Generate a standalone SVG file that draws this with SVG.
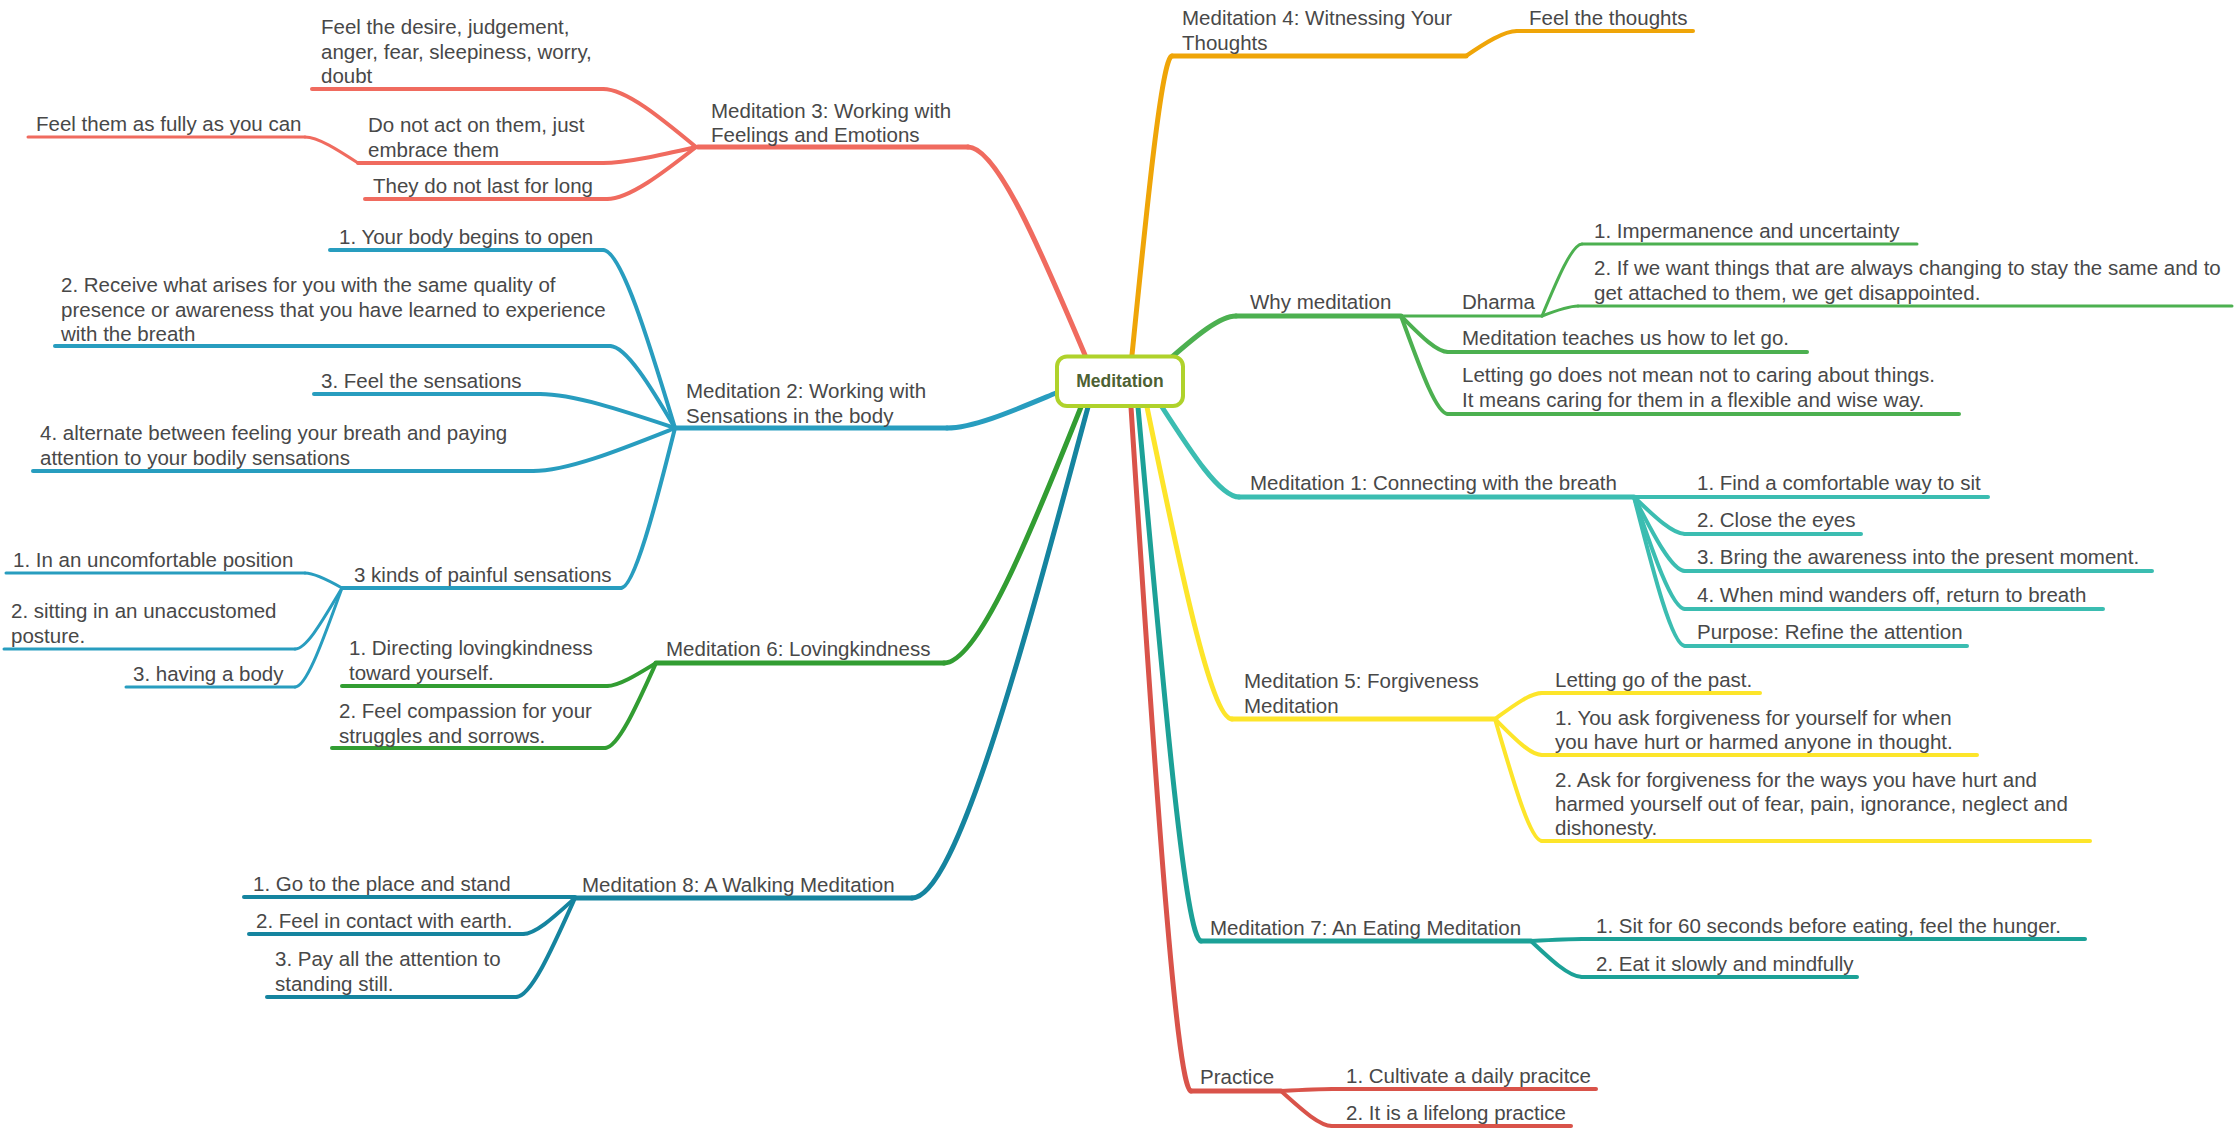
<svg xmlns="http://www.w3.org/2000/svg" width="2236" height="1132" viewBox="0 0 2236 1132">
<style>
  text { font-family: "Liberation Sans", Arial, sans-serif; font-size: 20.5px; fill: #484848; }
  .ln { fill: none; stroke-linecap: round; stroke-linejoin: round; }
  .w5 { stroke-width: 5; }
  .w4 { stroke-width: 4; }
  .w3 { stroke-width: 3; }
  .m3 { stroke: #f06b5f; }
  .m4 { stroke: #efa508; }
  .why { stroke: #4cb050; }
  .m1 { stroke: #3bbdb1; }
  .m5 { stroke: #fde52a; }
  .m7 { stroke: #1ca197; }
  .pr { stroke: #d9534a; }
  .m2 { stroke: #289dbf; }
  .m6 { stroke: #329d32; }
  .m8 { stroke: #15849f; }
  .root-label { font-size: 17.5px; font-weight: bold; fill: #4d6133; text-anchor: middle; }
</style>

<g id="connectors">
  <!-- main branches from root -->
  <path class="ln w5 m3" d="M1085 355 C1041 251 997 147 968 147"/>
  <path class="ln w5 m4" d="M1132 355 C1147 205 1162 56 1172 56"/>
  <path class="ln w5 why" d="M1172 357 C1196 336 1220 316 1236 316"/>
  <path class="ln w5 m1" d="M1162 407 C1191 452 1220 497 1239 497"/>
  <path class="ln w5 m5" d="M1147 407 C1179 563 1211 719 1232 719"/>
  <path class="ln w5 m7" d="M1138 407 C1162 674 1185 941 1201 941"/>
  <path class="ln w5 pr" d="M1131 407 C1153 749 1176 1091 1191 1091"/>
  <path class="ln w5 m8" d="M1088 407 C1022 652 956 898 912 898"/>
  <path class="ln w5 m6" d="M1081 407 C1030 535 978 663 944 663"/>
  <path class="ln w5 m2" d="M1056 393 C1015 410 974 428 947 428"/>

  <!-- Meditation 3 children -->
  <path class="ln w4 m3" d="M696 147 C661 118 626 89 603 89"/>
  <path class="ln w4 m3" d="M696 147 C661 155 626 163 603 163"/>
  <path class="ln w4 m3" d="M696 147 C663 173 629 199 607 199"/>
  <path class="ln w3 m3" d="M358 163 C338 150 318 137 305 137"/>

  <!-- Meditation 4 child -->
  <path class="ln w4 m4" d="M1466 56 C1485 43 1504 31 1517 31"/>

  <!-- Why meditation children -->
  <path class="ln w4 why" d="M1401 316 C1419 334 1436 352 1448 352"/>
  <path class="ln w4 why" d="M1401 316 C1419 365 1436 414 1448 414"/>
  <path class="ln w3 why" d="M1542 316 C1557 280 1572 244 1582 244"/>
  <path class="ln w3 why" d="M1542 316 C1555 311 1569 306 1578 306"/>

  <!-- Meditation 1 children -->
  <path class="ln w4 m1" d="M1634 497 L1685 497"/>
  <path class="ln w4 m1" d="M1634 497 C1653 515 1672 534 1685 534"/>
  <path class="ln w4 m1" d="M1634 497 C1653 534 1672 571 1685 571"/>
  <path class="ln w4 m1" d="M1634 497 C1653 553 1672 609 1685 609"/>
  <path class="ln w4 m1" d="M1634 497 C1653 571 1672 646 1685 646"/>

  <!-- Meditation 5 children -->
  <path class="ln w4 m5" d="M1495 719 C1513 706 1530 693 1542 693"/>
  <path class="ln w4 m5" d="M1495 719 C1513 737 1530 755 1542 755"/>
  <path class="ln w4 m5" d="M1495 719 C1513 780 1530 841 1542 841"/>

  <!-- Meditation 7 children -->
  <path class="ln w4 m7" d="M1531 941 C1550 940 1569 939 1582 939"/>
  <path class="ln w4 m7" d="M1531 941 C1550 959 1569 977 1582 977"/>

  <!-- Practice children -->
  <path class="ln w4 pr" d="M1281 1091 C1300 1090 1319 1089 1332 1089"/>
  <path class="ln w4 pr" d="M1281 1091 C1300 1108 1319 1126 1332 1126"/>

  <!-- Meditation 2 children -->
  <path class="ln w4 m2" d="M675 428 C648 339 621 250 603 250"/>
  <path class="ln w4 m2" d="M675 428 C651 387 626 346 610 346"/>
  <path class="ln w4 m2" d="M675 428 C624 411 574 394 540 394"/>
  <path class="ln w4 m2" d="M675 428 C622 449 568 471 533 471"/>
  <path class="ln w4 m2" d="M675 428 C655 508 634 588 621 588"/>
  <path class="ln w3 m2" d="M342 588 C328 580 314 573 305 573"/>
  <path class="ln w3 m2" d="M342 588 C324 618 307 649 295 649"/>
  <path class="ln w3 m2" d="M342 588 C324 637 307 687 295 687"/>

  <!-- Meditation 6 children -->
  <path class="ln w4 m6" d="M656 663 C638 674 619 686 607 686"/>
  <path class="ln w4 m6" d="M656 663 C637 705 618 748 605 748"/>

  <!-- Meditation 8 children -->
  <path class="ln w4 m8" d="M575 898 C555 916 536 934 523 934"/>
  <path class="ln w4 m8" d="M575 898 C553 947 531 997 516 997"/>
</g>

<g id="root">
  <rect x="1057" y="356.5" width="126" height="49.5" rx="10" ry="10" fill="#ffffff" stroke="#afd22b" stroke-width="4"/>
  <text class="root-label" x="1120" y="387">Meditation</text>
</g>

<!-- Meditation 3 -->
<g id="med3">
  <path class="ln w5 m3" d="M698 147 H968"/>
  <text x="711"><tspan x="711" y="118">Meditation 3: Working with</tspan><tspan x="711" y="142">Feelings and Emotions</tspan></text>
</g>
<g id="med3-feel-desire">
  <path class="ln w4 m3" d="M312 89 H603"/>
  <text><tspan x="321" y="34">Feel the desire, judgement,</tspan><tspan x="321" y="59">anger, fear, sleepiness, worry,</tspan><tspan x="321" y="83">doubt</tspan></text>
</g>
<g id="med3-do-not-act">
  <path class="ln w4 m3" d="M358 163 H603"/>
  <text><tspan x="368" y="132">Do not act on them, just</tspan><tspan x="368" y="157">embrace them</tspan></text>
</g>
<g id="med3-feel-fully">
  <path class="ln w3 m3" d="M28 137 H305"/>
  <text x="36" y="131">Feel them as fully as you can</text>
</g>
<g id="med3-not-last">
  <path class="ln w4 m3" d="M365 199 H607"/>
  <text x="373" y="193">They do not last for long</text>
</g>

<!-- Meditation 4 -->
<g id="med4">
  <path class="ln w5 m4" d="M1172 56 H1466"/>
  <text><tspan x="1182" y="25">Meditation 4: Witnessing Your</tspan><tspan x="1182" y="50">Thoughts</tspan></text>
</g>
<g id="med4-feel-thoughts">
  <path class="ln w4 m4" d="M1517 31 H1693"/>
  <text x="1529" y="25">Feel the thoughts</text>
</g>

<!-- Why meditation -->
<g id="why">
  <path class="ln w5 why" d="M1236 316 H1401"/>
  <text x="1250" y="309">Why meditation</text>
</g>
<g id="dharma">
  <path class="ln w3 why" d="M1401 316 H1542"/>
  <text x="1462" y="309">Dharma</text>
</g>
<g id="dharma-1">
  <path class="ln w3 why" d="M1582 244 H1917"/>
  <text x="1594" y="238">1. Impermanence and uncertainty</text>
</g>
<g id="dharma-2">
  <path class="ln w3 why" d="M1578 306 H2232"/>
  <text><tspan x="1594" y="275">2. If we want things that are always changing to stay the same and to</tspan><tspan x="1594" y="300">get attached to them, we get disappointed.</tspan></text>
</g>
<g id="why-let-go">
  <path class="ln w4 why" d="M1448 352 H1807"/>
  <text x="1462" y="345">Meditation teaches us how to let go.</text>
</g>
<g id="why-caring">
  <path class="ln w4 why" d="M1448 414 H1959"/>
  <text><tspan x="1462" y="382">Letting go does not mean not to caring about things.</tspan><tspan x="1462" y="407">It means caring for them in a flexible and wise way.</tspan></text>
</g>

<!-- Meditation 1 -->
<g id="med1">
  <path class="ln w5 m1" d="M1239 497 H1634"/>
  <text x="1250" y="490">Meditation 1: Connecting with the breath</text>
</g>
<g id="med1-1">
  <path class="ln w4 m1" d="M1685 497 H1988"/>
  <text x="1697" y="490">1. Find a comfortable way to sit</text>
</g>
<g id="med1-2">
  <path class="ln w4 m1" d="M1685 534 H1861"/>
  <text x="1697" y="527">2. Close the eyes</text>
</g>
<g id="med1-3">
  <path class="ln w4 m1" d="M1685 571 H2152"/>
  <text x="1697" y="564">3. Bring the awareness into the present moment.</text>
</g>
<g id="med1-4">
  <path class="ln w4 m1" d="M1685 609 H2103"/>
  <text x="1697" y="602">4. When mind wanders off, return to breath</text>
</g>
<g id="med1-purpose">
  <path class="ln w4 m1" d="M1685 646 H1967"/>
  <text x="1697" y="639">Purpose: Refine the attention</text>
</g>

<!-- Meditation 5 -->
<g id="med5">
  <path class="ln w5 m5" d="M1232 719 H1495"/>
  <text><tspan x="1244" y="688">Meditation 5: Forgiveness</tspan><tspan x="1244" y="713">Meditation</tspan></text>
</g>
<g id="med5-past">
  <path class="ln w4 m5" d="M1542 693 H1760"/>
  <text x="1555" y="687">Letting go of the past.</text>
</g>
<g id="med5-1">
  <path class="ln w4 m5" d="M1542 755 H1977"/>
  <text><tspan x="1555" y="725">1. You ask forgiveness for yourself for when</tspan><tspan x="1555" y="749">you have hurt or harmed anyone in thought.</tspan></text>
</g>
<g id="med5-2">
  <path class="ln w4 m5" d="M1542 841 H2090"/>
  <text><tspan x="1555" y="787">2. Ask for forgiveness for the ways you have hurt and</tspan><tspan x="1555" y="811">harmed yourself out of fear, pain, ignorance, neglect and</tspan><tspan x="1555" y="835">dishonesty.</tspan></text>
</g>

<!-- Meditation 7 -->
<g id="med7">
  <path class="ln w5 m7" d="M1201 941 H1531"/>
  <text x="1210" y="935">Meditation 7: An Eating Meditation</text>
</g>
<g id="med7-1">
  <path class="ln w4 m7" d="M1582 939 H2085"/>
  <text x="1596" y="933">1. Sit for 60 seconds before eating, feel the hunger.</text>
</g>
<g id="med7-2">
  <path class="ln w4 m7" d="M1582 977 H1857"/>
  <text x="1596" y="971">2. Eat it slowly and mindfully</text>
</g>

<!-- Practice -->
<g id="practice">
  <path class="ln w5 pr" d="M1191 1091 H1281"/>
  <text x="1200" y="1084">Practice</text>
</g>
<g id="practice-1">
  <path class="ln w4 pr" d="M1332 1089 H1596"/>
  <text x="1346" y="1083">1. Cultivate a daily pracitce</text>
</g>
<g id="practice-2">
  <path class="ln w4 pr" d="M1332 1126 H1571"/>
  <text x="1346" y="1120">2. It is a lifelong practice</text>
</g>

<!-- Meditation 2 -->
<g id="med2">
  <path class="ln w5 m2" d="M675 428 H947"/>
  <text><tspan x="686" y="398">Meditation 2: Working with</tspan><tspan x="686" y="423">Sensations in the body</tspan></text>
</g>
<g id="med2-1">
  <path class="ln w4 m2" d="M330 250 H603"/>
  <text x="339" y="244">1. Your body begins to open</text>
</g>
<g id="med2-2">
  <path class="ln w4 m2" d="M55 346 H610"/>
  <text><tspan x="61" y="292">2. Receive what arises for you with the same quality of</tspan><tspan x="61" y="317">presence or awareness that you have learned to experience</tspan><tspan x="61" y="341">with the breath</tspan></text>
</g>
<g id="med2-3">
  <path class="ln w4 m2" d="M314 394 H540"/>
  <text x="321" y="388">3. Feel the sensations</text>
</g>
<g id="med2-4">
  <path class="ln w4 m2" d="M33 471 H533"/>
  <text><tspan x="40" y="440">4. alternate between feeling your breath and paying</tspan><tspan x="40" y="465">attention to your bodily sensations</tspan></text>
</g>
<g id="med2-painful">
  <path class="ln w4 m2" d="M342 588 H621"/>
  <text x="354" y="582">3 kinds of painful sensations</text>
</g>
<g id="painful-1">
  <path class="ln w3 m2" d="M6 573 H305"/>
  <text x="13" y="567">1. In an uncomfortable position</text>
</g>
<g id="painful-2">
  <path class="ln w3 m2" d="M4 649 H295"/>
  <text><tspan x="11" y="618">2. sitting in an unaccustomed</tspan><tspan x="11" y="643">posture.</tspan></text>
</g>
<g id="painful-3">
  <path class="ln w3 m2" d="M126 687 H295"/>
  <text x="133" y="681">3. having a body</text>
</g>

<!-- Meditation 6 -->
<g id="med6">
  <path class="ln w5 m6" d="M656 663 H944"/>
  <text x="666" y="656">Meditation 6: Lovingkindness</text>
</g>
<g id="med6-1">
  <path class="ln w4 m6" d="M342 686 H607"/>
  <text><tspan x="349" y="655">1. Directing lovingkindness</tspan><tspan x="349" y="680">toward yourself.</tspan></text>
</g>
<g id="med6-2">
  <path class="ln w4 m6" d="M332 748 H605"/>
  <text><tspan x="339" y="718">2. Feel compassion for your</tspan><tspan x="339" y="743">struggles and sorrows.</tspan></text>
</g>

<!-- Meditation 8 -->
<g id="med8">
  <path class="ln w5 m8" d="M575 898 H912"/>
  <text x="582" y="892">Meditation 8: A Walking Meditation</text>
</g>
<g id="med8-1">
  <path class="ln w4 m8" d="M244 897 H575"/>
  <text x="253" y="891">1. Go to the place and stand</text>
</g>
<g id="med8-2">
  <path class="ln w4 m8" d="M249 934 H523"/>
  <text x="256" y="928">2. Feel in contact with earth.</text>
</g>
<g id="med8-3">
  <path class="ln w4 m8" d="M267 997 H516"/>
  <text><tspan x="275" y="966">3. Pay all the attention to</tspan><tspan x="275" y="991">standing still.</tspan></text>
</g>
</svg>
